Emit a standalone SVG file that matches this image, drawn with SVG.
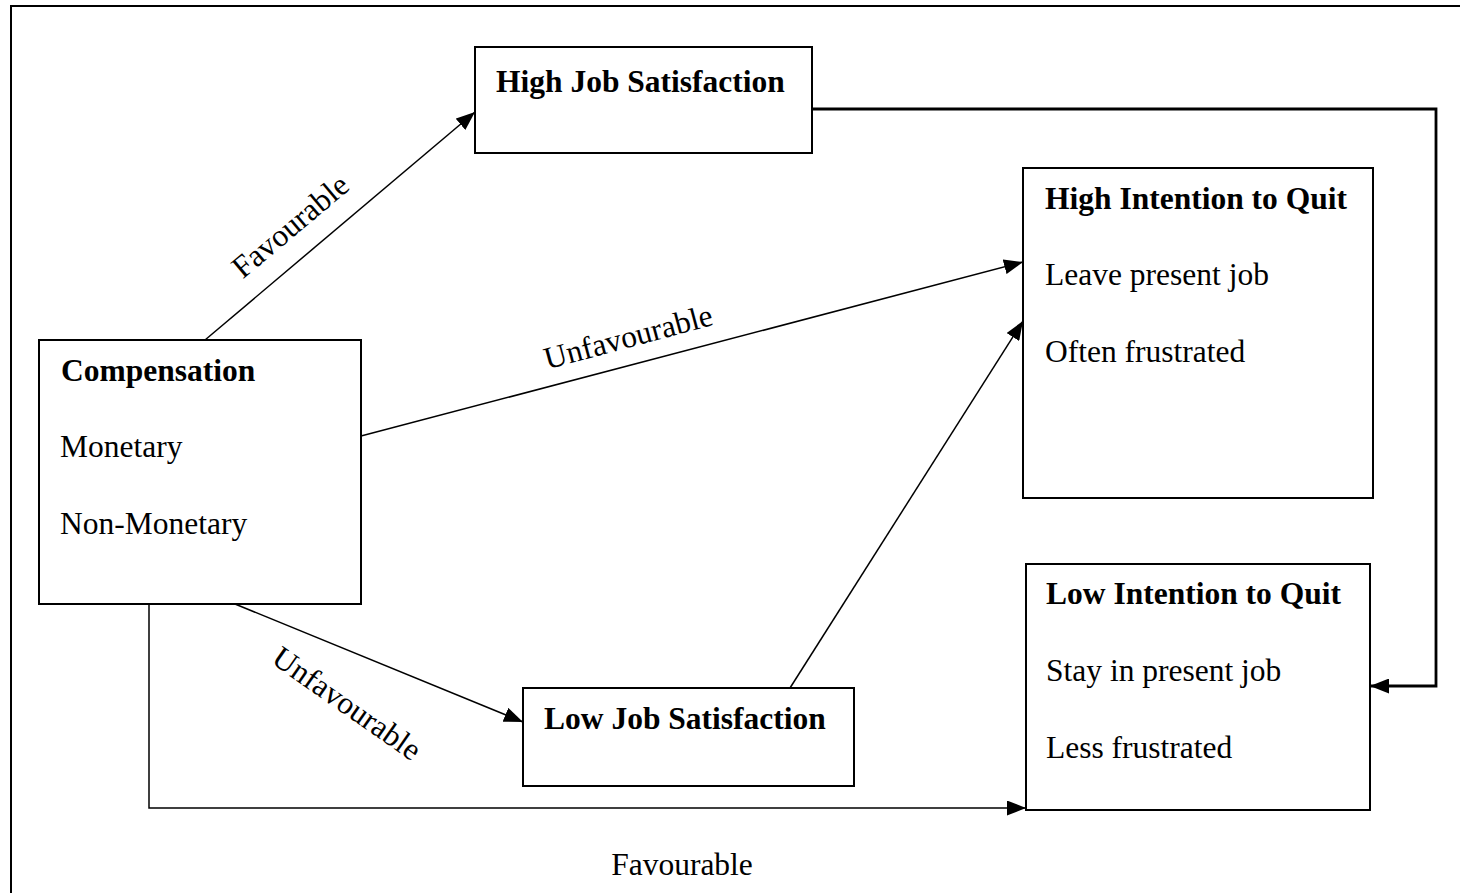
<svg xmlns="http://www.w3.org/2000/svg" width="1460" height="893" viewBox="0 0 1460 893">
<style>
.box{fill:#fff;stroke:#000;stroke-width:2}
.t{font-family:"Liberation Serif","Times New Roman",serif;font-size:31.5px;fill:#000}
.b{font-weight:bold}
.c{fill:none;stroke:#000;stroke-width:1.5}
.thick{stroke-width:2.8}
</style>
<defs>
<marker id="ah" viewBox="0 0 19 15" refX="19" refY="7.5" markerUnits="userSpaceOnUse" markerWidth="19" markerHeight="15" orient="auto">
<path d="M0,0 L19,7.5 L0,15 Z" fill="#000"/>
</marker>
</defs>
<rect width="1460" height="893" fill="#fff"/>
<path d="M11,893 V6 H1460" fill="none" stroke="#000" stroke-width="2"/>
<g id="connectors">
<line class="c" x1="205" y1="340" x2="475" y2="112" marker-end="url(#ah)"/>
<line class="c" x1="361" y1="436" x2="1023" y2="262" marker-end="url(#ah)"/>
<line class="c" x1="790" y1="688" x2="1023" y2="321" marker-end="url(#ah)"/>
<line class="c" x1="235" y1="604" x2="523" y2="722" marker-end="url(#ah)"/>
<path class="c" d="M149,601 V808 H1026" marker-end="url(#ah)"/>
<line class="c" x1="141" y1="601.5" x2="150" y2="601.5"/>
<path class="c thick" d="M812,109 H1436 V686 H1370" marker-end="url(#ah)"/>
<text class="t" transform="translate(297,234) rotate(-40)" text-anchor="middle">Favourable</text>
<text class="t" transform="translate(631,347) rotate(-15)" text-anchor="middle">Unfavourable</text>
<text class="t" transform="translate(341,712) rotate(35)" text-anchor="middle">Unfavourable</text>
<text class="t" x="682" y="875" text-anchor="middle">Favourable</text>
</g>
<g id="high-job-satisfaction">
<rect class="box" x="475" y="47" width="337" height="106"/>
<text class="t b" x="496" y="92">High Job Satisfaction</text>
</g>
<g id="high-intention">
<rect class="box" x="1023" y="168" width="350" height="330"/>
<text class="t b" x="1045" y="209">High Intention to Quit</text>
<text class="t" x="1045" y="285">Leave present job</text>
<text class="t" x="1045" y="362">Often frustrated</text>
</g>
<g id="compensation">
<rect class="box" x="39" y="340" width="322" height="264"/>
<text class="t b" x="61" y="381">Compensation</text>
<text class="t" x="60" y="457">Monetary</text>
<text class="t" x="60" y="534">Non-Monetary</text>
</g>
<g id="low-intention">
<rect class="box" x="1026" y="564" width="344" height="246"/>
<text class="t b" x="1046" y="604">Low Intention to Quit</text>
<text class="t" x="1046" y="681">Stay in present job</text>
<text class="t" x="1046" y="758">Less frustrated</text>
</g>
<g id="low-job-satisfaction">
<rect class="box" x="523" y="688" width="331" height="98"/>
<text class="t b" x="544" y="729">Low Job Satisfaction</text>
</g>
</svg>
